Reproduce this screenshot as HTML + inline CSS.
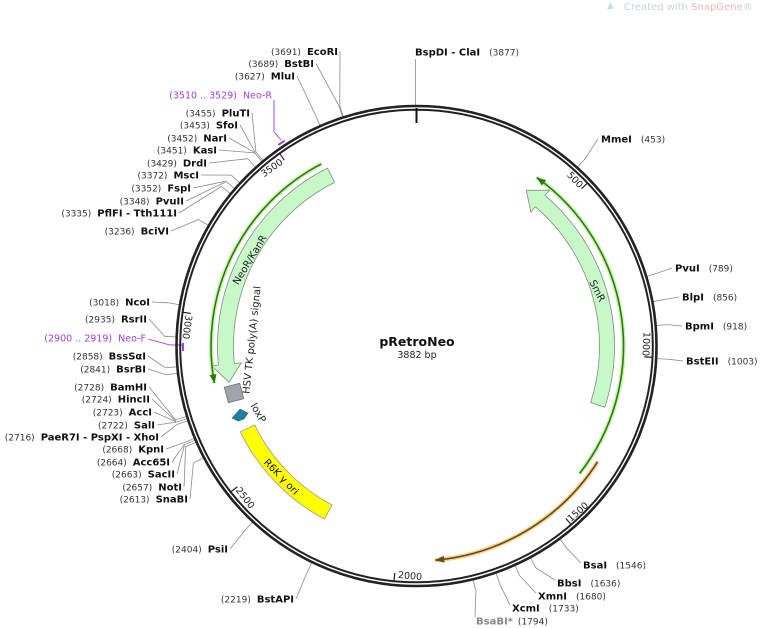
<!DOCTYPE html>
<html><head><meta charset="utf-8"><style>
html,body{margin:0;padding:0;background:#fff;}
svg{display:block;font-family:"DejaVu Sans","Liberation Sans",sans-serif;}
.n{font-size:9px;fill:#333;}
.b{font-size:10px;font-weight:bold;fill:#111;}
.p{font-size:9.5px;fill:#a040e0;}
.t{font-size:9.5px;fill:#222;}
.f{font-size:10px;fill:#222;}
</style></head><body>
<svg width="760" height="628" viewBox="0 0 760 628" xmlns="http://www.w3.org/2000/svg">
<text x="624" y="10" style="font-size:10px;fill:#c8d2d8">Created with <tspan style="fill:#f0b8b8">SnapGene</tspan>®</text>
<path d="M607 9 L611 2 L613 9 Z" fill="#bfe0f0"/>
<g stroke="#8a8a8a" stroke-width="0.8" fill="none">
<polyline points="340,51 339.8,105.9"/>
<polyline points="316,63.5 339.1,106.2"/>
<polyline points="297,76 315.5,115.1"/>
<polyline points="252,113 255.9,151.8"/>
<polyline points="240,125 255.2,152.4"/>
<polyline points="229,138 254.9,152.6"/>
<polyline points="219,150 254.6,152.9"/>
<polyline points="209,163 247.9,158.7"/>
<polyline points="201,175 231.3,175.1"/>
<polyline points="193,188 225.9,181.2"/>
<polyline points="186,201 224.8,182.4"/>
<polyline points="179,213 221.5,186.4"/>
<polyline points="171,231 198.4,219.6"/>
<polyline points="152,302 168.2,302.8"/>
<polyline points="149,319 164.7,336.4"/>
<polyline points="148,356 165.4,367.8"/>
<polyline points="148,369 166.1,374.7"/>
<polyline points="149,387 175.5,419.8"/>
<polyline points="152,399 176.0,421.3"/>
<polyline points="154,412 176.1,421.7"/>
<polyline points="157,425 176.2,422.1"/>
<polyline points="161,437 177.0,424.4"/>
<polyline points="166,449 183.8,442.8"/>
<polyline points="172,462 184.5,444.3"/>
<polyline points="177,474 184.6,444.6"/>
<polyline points="184,487 185.6,446.9"/>
<polyline points="190,499 193.4,463.1"/>
<polyline points="230,549 244.9,530.5"/>
<polyline points="296,599 306.9,572.9"/>
<polyline points="598,139 585.1,158.7"/>
<polyline points="672,268 657.7,273.0"/>
<polyline points="679,297 664.2,299.6"/>
<polyline points="682,326 667.6,324.6"/>
<polyline points="683,361 668.2,359.2"/>
<polyline points="581,563 566.8,548.3"/>
<polyline points="555,580 535.9,567.9"/>
<polyline points="536,593 519.8,575.9"/>
<polyline points="510,605 499.7,583.9"/>
<polyline points="475,617 475.9,590.9"/>
<polyline points="415.5,59 415.5,106"/>
<g>
<line x1="416.5" y1="94" x2="416.5" y2="105.5" transform="rotate(342.29 416.5 346)"/>
<line x1="416.5" y1="94" x2="416.5" y2="105.5" transform="rotate(342.11 416.5 346)"/>
<line x1="416.5" y1="94" x2="416.5" y2="105.5" transform="rotate(336.36 416.5 346)"/>
<line x1="416.5" y1="94" x2="416.5" y2="105.5" transform="rotate(320.40 416.5 346)"/>
<line x1="416.5" y1="94" x2="416.5" y2="105.5" transform="rotate(320.03 416.5 346)"/>
<line x1="416.5" y1="94" x2="416.5" y2="105.5" transform="rotate(317.99 416.5 346)"/>
<line x1="416.5" y1="94" x2="416.5" y2="105.5" transform="rotate(312.71 416.5 346)"/>
<line x1="416.5" y1="94" x2="416.5" y2="105.5" transform="rotate(310.85 416.5 346)"/>
<line x1="416.5" y1="94" x2="416.5" y2="105.5" transform="rotate(309.28 416.5 346)"/>
<line x1="416.5" y1="94" x2="416.5" y2="105.5" transform="rotate(300.09 416.5 346)"/>
<line x1="416.5" y1="94" x2="416.5" y2="105.5" transform="rotate(279.88 416.5 346)"/>
<line x1="416.5" y1="94" x2="416.5" y2="105.5" transform="rotate(272.18 416.5 346)"/>
<line x1="416.5" y1="94" x2="416.5" y2="105.5" transform="rotate(265.04 416.5 346)"/>
<line x1="416.5" y1="94" x2="416.5" y2="105.5" transform="rotate(263.46 416.5 346)"/>
<line x1="416.5" y1="94" x2="416.5" y2="105.5" transform="rotate(252.98 416.5 346)"/>
<line x1="416.5" y1="94" x2="416.5" y2="105.5" transform="rotate(252.42 416.5 346)"/>
<line x1="416.5" y1="94" x2="416.5" y2="105.5" transform="rotate(251.87 416.5 346)"/>
<line x1="416.5" y1="94" x2="416.5" y2="105.5" transform="rotate(247.42 416.5 346)"/>
<line x1="416.5" y1="94" x2="416.5" y2="105.5" transform="rotate(246.96 416.5 346)"/>
<line x1="416.5" y1="94" x2="416.5" y2="105.5" transform="rotate(246.40 416.5 346)"/>
<line x1="416.5" y1="94" x2="416.5" y2="105.5" transform="rotate(242.32 416.5 346)"/>
<line x1="416.5" y1="94" x2="416.5" y2="105.5" transform="rotate(222.94 416.5 346)"/>
<line x1="416.5" y1="94" x2="416.5" y2="105.5" transform="rotate(205.78 416.5 346)"/>
<line x1="416.5" y1="94" x2="416.5" y2="105.5" transform="rotate(42.01 416.5 346)"/>
<line x1="416.5" y1="94" x2="416.5" y2="105.5" transform="rotate(73.17 416.5 346)"/>
<line x1="416.5" y1="94" x2="416.5" y2="105.5" transform="rotate(79.38 416.5 346)"/>
<line x1="416.5" y1="94" x2="416.5" y2="105.5" transform="rotate(85.13 416.5 346)"/>
<line x1="416.5" y1="94" x2="416.5" y2="105.5" transform="rotate(93.01 416.5 346)"/>
<line x1="416.5" y1="94" x2="416.5" y2="105.5" transform="rotate(143.37 416.5 346)"/>
<line x1="416.5" y1="94" x2="416.5" y2="105.5" transform="rotate(151.72 416.5 346)"/>
<line x1="416.5" y1="94" x2="416.5" y2="105.5" transform="rotate(155.80 416.5 346)"/>
<line x1="416.5" y1="94" x2="416.5" y2="105.5" transform="rotate(160.71 416.5 346)"/>
<line x1="416.5" y1="94" x2="416.5" y2="105.5" transform="rotate(166.37 416.5 346)"/>
</g>
</g>
<!-- primers -->
<polyline points="274,100 274,132 281,140" stroke="#a040e0" stroke-width="0.9" fill="none"/>
<path d="M278.3,144.9 A244,244 0 0,1 284.7,140.7" stroke="#a040e0" stroke-width="2" fill="none"/>
<polyline points="148,339 170,345 182,345" stroke="#a040e0" stroke-width="0.9" fill="none"/>
<line x1="183" y1="343" x2="183" y2="351" stroke="#a040e0" stroke-width="2"/>
<!-- features -->
<path d="M604.8,407.2 A198,198 0 0,0 545.1,195.4 L549.6,190.1 L526.3,190.3 L530.8,212.2 L535.3,206.8 A183,183 0 0,1 590.6,402.5 Z" fill="#c8f7c8" stroke="#7d8f7d" stroke-width="0.8"/>
<path d="M327.4,168.1 A199,199 0 0,0 218.4,365.1 L211.5,365.7 L229.0,382.4 L241.3,362.9 L234.3,363.5 A183,183 0 0,1 334.6,182.4 Z" fill="#c8f7c8" stroke="#7d8f7d" stroke-width="0.8"/>
<path d="M324.5,519.1 A196,196 0 0,1 240.3,431.9 L254.7,424.9 A180,180 0 0,0 332.0,504.9 Z" fill="#ffff00" stroke="#999" stroke-width="0.8"/>
<rect x="226" y="385" width="16" height="16" fill="#a0a4ac" stroke="#777" stroke-width="0.8" transform="rotate(-15 234 393)"/>
<polygon points="232,418 240,409 248,413 244,419 238,421" fill="#1f7f9a" stroke="#155" stroke-width="0.5"/>
<g fill="none">
<path d="M321.3,163.9 A205.5,205.5 0 0,0 214.4,383.1" stroke="#b4f08c" stroke-width="4.5" stroke-opacity="0.7"/>
<path d="M321.3,163.9 A205.5,205.5 0 0,0 214.4,383.1" stroke="#2b7a10" stroke-width="1.6"/>
<path d="M579.6,473.5 A207,207 0 0,0 536.7,177.5" stroke="#b4f08c" stroke-width="4.5" stroke-opacity="0.7"/>
<path d="M579.6,473.5 A207,207 0 0,0 536.7,177.5" stroke="#2b7a10" stroke-width="1.6"/>
<path d="M597.6,461.8 A215,215 0 0,1 435.2,560.2" stroke="#f3bf5c" stroke-width="4.5" stroke-opacity="0.7"/>
<path d="M597.6,461.8 A215,215 0 0,1 435.2,560.2" stroke="#6a4810" stroke-width="1.6"/>
</g>
<polygon points="214.4,383.1 216.5,374.1 209.5,375.1" fill="#2b7a10"/>
<polygon points="536.7,177.5 541.8,185.6 546.1,180.1" fill="#2b7a10"/>
<polygon points="435.2,560.2 443.7,555.7 444.6,562.7" fill="#6a4810"/>
<!-- backbone -->
<circle cx="416.5" cy="346" r="240" fill="none" stroke="#222" stroke-width="2.6"/>
<circle cx="416.5" cy="346" r="236.3" fill="none" stroke="#222" stroke-width="2"/>
<line x1="416.5" y1="108" x2="416.5" y2="123" stroke="#111" stroke-width="2"/>
<g stroke="#222" stroke-width="1.2">
<line x1="416.5" y1="110.5" x2="416.5" y2="118" transform="rotate(46.37 416.5 346)"/>
<line x1="416.5" y1="110.5" x2="416.5" y2="118" transform="rotate(92.74 416.5 346)"/>
<line x1="416.5" y1="110.5" x2="416.5" y2="118" transform="rotate(139.10 416.5 346)"/>
<line x1="416.5" y1="110.5" x2="416.5" y2="118" transform="rotate(185.47 416.5 346)"/>
<line x1="416.5" y1="110.5" x2="416.5" y2="118" transform="rotate(231.84 416.5 346)"/>
<line x1="416.5" y1="110.5" x2="416.5" y2="118" transform="rotate(278.21 416.5 346)"/>
<line x1="416.5" y1="110.5" x2="416.5" y2="118" transform="rotate(324.58 416.5 346)"/>
</g>
<g class="t">
<text x="575" y="183" text-anchor="middle" transform="rotate(46 575 180)">500</text>
<text x="646" y="347" text-anchor="middle" transform="rotate(92.7 646 344)">1000</text>
<text x="578" y="515" text-anchor="middle" transform="rotate(-41 578 512)">1500</text>
<text x="410" y="579" text-anchor="middle" transform="rotate(5 410 576)">2000</text>
<text x="245" y="501" text-anchor="middle" transform="rotate(52 245 498)">2500</text>
<text x="187" y="330" text-anchor="middle" transform="rotate(98 187 327)">3000</text>
<text x="272" y="171" text-anchor="middle" transform="rotate(-35 272 168)">3500</text>
</g>
<text x="417" y="346" text-anchor="middle" style="font-size:12.5px;font-weight:bold;fill:#111">pRetroNeo</text>
<text x="417" y="358" text-anchor="middle" style="font-size:9.5px;fill:#222">3882 bp</text>
<text class="f" x="250" y="263" text-anchor="middle" transform="rotate(-59 250 260)">NeoR/KanR</text>
<text class="f" x="597" y="294" text-anchor="middle" transform="rotate(63 597 291)">SmR</text>
<text class="f" x="252" y="343" text-anchor="middle" transform="rotate(-84 252 340)">HSV TK poly(A) signal</text>
<text class="f" x="258" y="416" text-anchor="middle" transform="rotate(60 258 413)">loxP</text>
<text class="f" x="281" y="480" text-anchor="middle" transform="rotate(46 281 477)" style="fill:#111">R6K γ ori</text>
<g>
<text x="338" y="55" text-anchor="end"><tspan class="n">(3691)</tspan><tspan class="b" dx="6">EcoRI</tspan></text>
<text x="314" y="67" text-anchor="end"><tspan class="n">(3689)</tspan><tspan class="b" dx="6">BstBI</tspan></text>
<text x="295" y="79.5" text-anchor="end"><tspan class="n">(3627)</tspan><tspan class="b" dx="6">MluI</tspan></text>
<text x="272" y="98.5" text-anchor="end" class="p">(3510 .. 3529)<tspan dx="6">Neo-R</tspan></text>
<text x="250" y="116.5" text-anchor="end"><tspan class="n">(3455)</tspan><tspan class="b" dx="6">PluTI</tspan></text>
<text x="238" y="128.5" text-anchor="end"><tspan class="n">(3453)</tspan><tspan class="b" dx="6">SfoI</tspan></text>
<text x="227" y="141.5" text-anchor="end"><tspan class="n">(3452)</tspan><tspan class="b" dx="6">NarI</tspan></text>
<text x="217" y="153.5" text-anchor="end"><tspan class="n">(3451)</tspan><tspan class="b" dx="6">KasI</tspan></text>
<text x="207" y="166.5" text-anchor="end"><tspan class="n">(3429)</tspan><tspan class="b" dx="6">DrdI</tspan></text>
<text x="199" y="178.5" text-anchor="end"><tspan class="n">(3372)</tspan><tspan class="b" dx="6">MscI</tspan></text>
<text x="191" y="191.5" text-anchor="end"><tspan class="n">(3352)</tspan><tspan class="b" dx="6">FspI</tspan></text>
<text x="184" y="204.5" text-anchor="end"><tspan class="n">(3348)</tspan><tspan class="b" dx="6">PvuII</tspan></text>
<text x="177" y="216.5" text-anchor="end"><tspan class="n">(3335)</tspan><tspan class="b" dx="6">PflFI  - Tth111I</tspan></text>
<text x="169" y="234.5" text-anchor="end"><tspan class="n">(3236)</tspan><tspan class="b" dx="6">BciVI</tspan></text>
<text x="150" y="305.5" text-anchor="end"><tspan class="n">(3018)</tspan><tspan class="b" dx="6">NcoI</tspan></text>
<text x="147" y="322.5" text-anchor="end"><tspan class="n">(2935)</tspan><tspan class="b" dx="6">RsrII</tspan></text>
<text x="146" y="341.5" text-anchor="end" class="p">(2900 .. 2919)<tspan dx="6">Neo-F</tspan></text>
<text x="146" y="359.5" text-anchor="end"><tspan class="n">(2858)</tspan><tspan class="b" dx="6">BssSαI</tspan></text>
<text x="146" y="372.5" text-anchor="end"><tspan class="n">(2841)</tspan><tspan class="b" dx="6">BsrBI</tspan></text>
<text x="147" y="390.5" text-anchor="end"><tspan class="n">(2728)</tspan><tspan class="b" dx="6">BamHI</tspan></text>
<text x="150" y="402.5" text-anchor="end"><tspan class="n">(2724)</tspan><tspan class="b" dx="6">HincII</tspan></text>
<text x="152" y="415.5" text-anchor="end"><tspan class="n">(2723)</tspan><tspan class="b" dx="6">AccI</tspan></text>
<text x="155" y="428.5" text-anchor="end"><tspan class="n">(2722)</tspan><tspan class="b" dx="6">SalI</tspan></text>
<text x="159" y="440.5" text-anchor="end"><tspan class="n">(2716)</tspan><tspan class="b" dx="6">PaeR7I  - PspXI  - XhoI</tspan></text>
<text x="164" y="452.5" text-anchor="end"><tspan class="n">(2668)</tspan><tspan class="b" dx="6">KpnI</tspan></text>
<text x="170" y="465.5" text-anchor="end"><tspan class="n">(2664)</tspan><tspan class="b" dx="6">Acc65I</tspan></text>
<text x="175" y="477.5" text-anchor="end"><tspan class="n">(2663)</tspan><tspan class="b" dx="6">SacII</tspan></text>
<text x="182" y="490.5" text-anchor="end"><tspan class="n">(2657)</tspan><tspan class="b" dx="6">NotI</tspan></text>
<text x="188" y="502.5" text-anchor="end"><tspan class="n">(2613)</tspan><tspan class="b" dx="6">SnaBI</tspan></text>
<text x="228" y="552.5" text-anchor="end"><tspan class="n">(2404)</tspan><tspan class="b" dx="6">PsiI</tspan></text>
<text x="294" y="602.5" text-anchor="end"><tspan class="n">(2219)</tspan><tspan class="b" dx="6">BstAPI</tspan></text>
<text x="415" y="55.5"><tspan class="b">BspDI  - ClaI</tspan><tspan class="n" dx="9">(3877)</tspan></text>
<text x="601" y="142.5"><tspan class="b">MmeI</tspan><tspan class="n" dx="9">(453)</tspan></text>
<text x="675" y="271.5"><tspan class="b">PvuI</tspan><tspan class="n" dx="9">(789)</tspan></text>
<text x="682" y="300.5"><tspan class="b">BlpI</tspan><tspan class="n" dx="9">(856)</tspan></text>
<text x="685" y="329.5"><tspan class="b">BpmI</tspan><tspan class="n" dx="9">(918)</tspan></text>
<text x="686" y="364.5"><tspan class="b">BstEII</tspan><tspan class="n" dx="9">(1003)</tspan></text>
<text x="583" y="568.5"><tspan class="b">BsaI</tspan><tspan class="n" dx="9">(1546)</tspan></text>
<text x="557" y="586.5"><tspan class="b">BbsI</tspan><tspan class="n" dx="9">(1636)</tspan></text>
<text x="538" y="599.5"><tspan class="b">XmnI</tspan><tspan class="n" dx="9">(1680)</tspan></text>
<text x="512" y="611.5"><tspan class="b">XcmI</tspan><tspan class="n" dx="9">(1733)</tspan></text>
<text x="476" y="624.5"><tspan class="b" style="fill:#888">BsaBI*</tspan><tspan class="n" dx="5">(1794)</tspan></text>
</g>
</svg>
</body></html>
